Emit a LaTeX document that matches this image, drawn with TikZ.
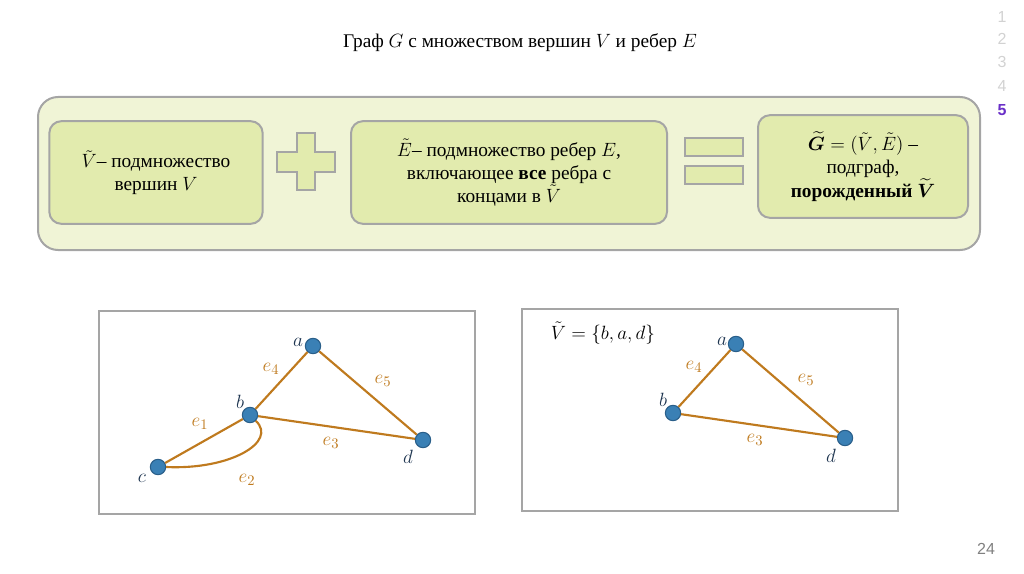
\documentclass[tikz,border=0pt]{standalone}
\usepackage{amsmath}
\usepackage{fontspec}
\setmainfont{Liberation Serif}
\setsansfont{Liberation Sans}
\usetikzlibrary{positioning}
\definecolor{panelfill}{HTML}{F0F4D6}
\definecolor{boxfill}{HTML}{E2EBAE}
\definecolor{framegrey}{HTML}{A5A5A5}
\definecolor{edgebrown}{HTML}{BF7A1E}
\definecolor{vtxblue}{HTML}{3A80B5}
\definecolor{vtxline}{HTML}{2A5F8A}
\definecolor{lblblue}{HTML}{1E3550}
\definecolor{numgrey}{HTML}{D2D2D2}
\definecolor{numpurple}{HTML}{6A2FC8}

\begin{document}
\begin{tikzpicture}[
  x=0.75pt,y=-0.75pt,font=\fontsize{14.5}{17}\selectfont,
  bx/.style={draw=framegrey,line width=1.5pt,fill=boxfill,rounded corners=9pt,minimum height=77pt,align=center},
  sym/.style={draw=framegrey,line width=1.2pt,fill=boxfill},
  frm/.style={draw=framegrey,line width=1.5pt},
  vtx/.style={circle,draw=vtxline,fill=vtxblue,line width=0.8pt,minimum size=11.5pt,inner sep=0pt},
  ed/.style={draw=edgebrown,line width=1.6pt},
  el/.style={text=edgebrown,font=\fontsize{15}{17}\selectfont},
  vl/.style={text=lblblue,font=\fontsize{15}{17}\selectfont},
  num/.style={font=\sffamily\fontsize{12}{14}\selectfont,text=numgrey}
]
\useasboundingbox (0,0) rectangle (1024,574);
% title and slide numbers
\node (title) at (520,43) {\fontsize{14.5}{17}\selectfont Граф $G$ с множеством вершин $V$ и ребер $E$};
\node[num] (n1) at (1002,17) {1};
\node[num] (n2) at (1002,39) {2};
\node[num] (n3) at (1002,62) {3};
\node[num] (n4) at (1002,86) {4};
\node[num,text=numpurple,font=\sffamily\bfseries\fontsize{12}{14}\selectfont] (n5) at (1002,110) {5};
\node[num,text=gray] (page) at (986,549) {24};
% top panel
\draw[frm,fill=panelfill,rounded corners=15pt] (38,97) rectangle (980,250);
\node[bx,minimum width=160pt] (vsub) at (156,172.5) {$\tilde{V}$-- подмножество\\вершин $V$};
\node[bx,minimum width=237pt] (esub) at (509,172.5) {$\tilde{E}$-- подмножество ребер $E$,\\включающее \textbf{все} ребра с\\концами в $\tilde{V}$};
\node[bx,minimum width=157.5pt] (gsub) at (863,166.5) {$\boldsymbol{\widetilde{G}}=(\tilde{V},\tilde{E})$ --\\подграф,\\\textbf{порожденный $\boldsymbol{\widetilde{V}}$}};
\draw[sym] (297,133) -| (315,152) -| (335,172) -| (315,190) -| (297,172) -| (277,152) -| (297,133) -- cycle;
\draw[sym] (685,138) rectangle (743,156);
\draw[sym] (685,166) rectangle (743,184);
% graph G
\draw[frm] (99,311) rectangle (475,514);
\node[vtx] (a) at (313,346) {};
\node[vtx] (b) at (250,415) {};
\node[vtx] (c) at (158,467) {};
\node[vtx] (d) at (423,440) {};
\draw[ed] (c) -- (b);
\draw[ed] (b) -- (a);
\draw[ed] (a) -- (d);
\draw[ed] (b) -- (d);
\draw[ed] (c.east) .. controls (230,470) and (278,442) .. (b.south east);
\node[vl] (la) at (298,342) {$a$};
\node[vl] (lb) at (240,402) {$b$};
\node[vl] (lc) at (142,478) {$c$};
\node[vl] (ld) at (408,457) {$d$};
\node[el] (e1) at (200,424) {$e_1$};
\node[el] (e2) at (247,480) {$e_2$};
\node[el] (e3) at (331,443) {$e_3$};
\node[el] (e4) at (271,369) {$e_4$};
\node[el] (e5) at (383,381) {$e_5$};
% subgraph
\draw[frm] (522,309) rectangle (898,511);
\node (vset) at (603,333) {$\tilde{V}=\{b,a,d\}$};
\node[vtx] (sa) at (736,344) {};
\node[vtx] (sb) at (673,413) {};
\node[vtx] (sd) at (845,438) {};
\draw[ed] (sb) -- (sa);
\draw[ed] (sa) -- (sd);
\draw[ed] (sb) -- (sd);
\node[vl] (lsa) at (722,341) {$a$};
\node[vl] (lsb) at (663,400) {$b$};
\node[vl] (lsd) at (831,456) {$d$};
\node[el] (se3) at (755,440) {$e_3$};
\node[el] (se4) at (694,367) {$e_4$};
\node[el] (se5) at (806,380) {$e_5$};
\end{tikzpicture}
\end{document}
